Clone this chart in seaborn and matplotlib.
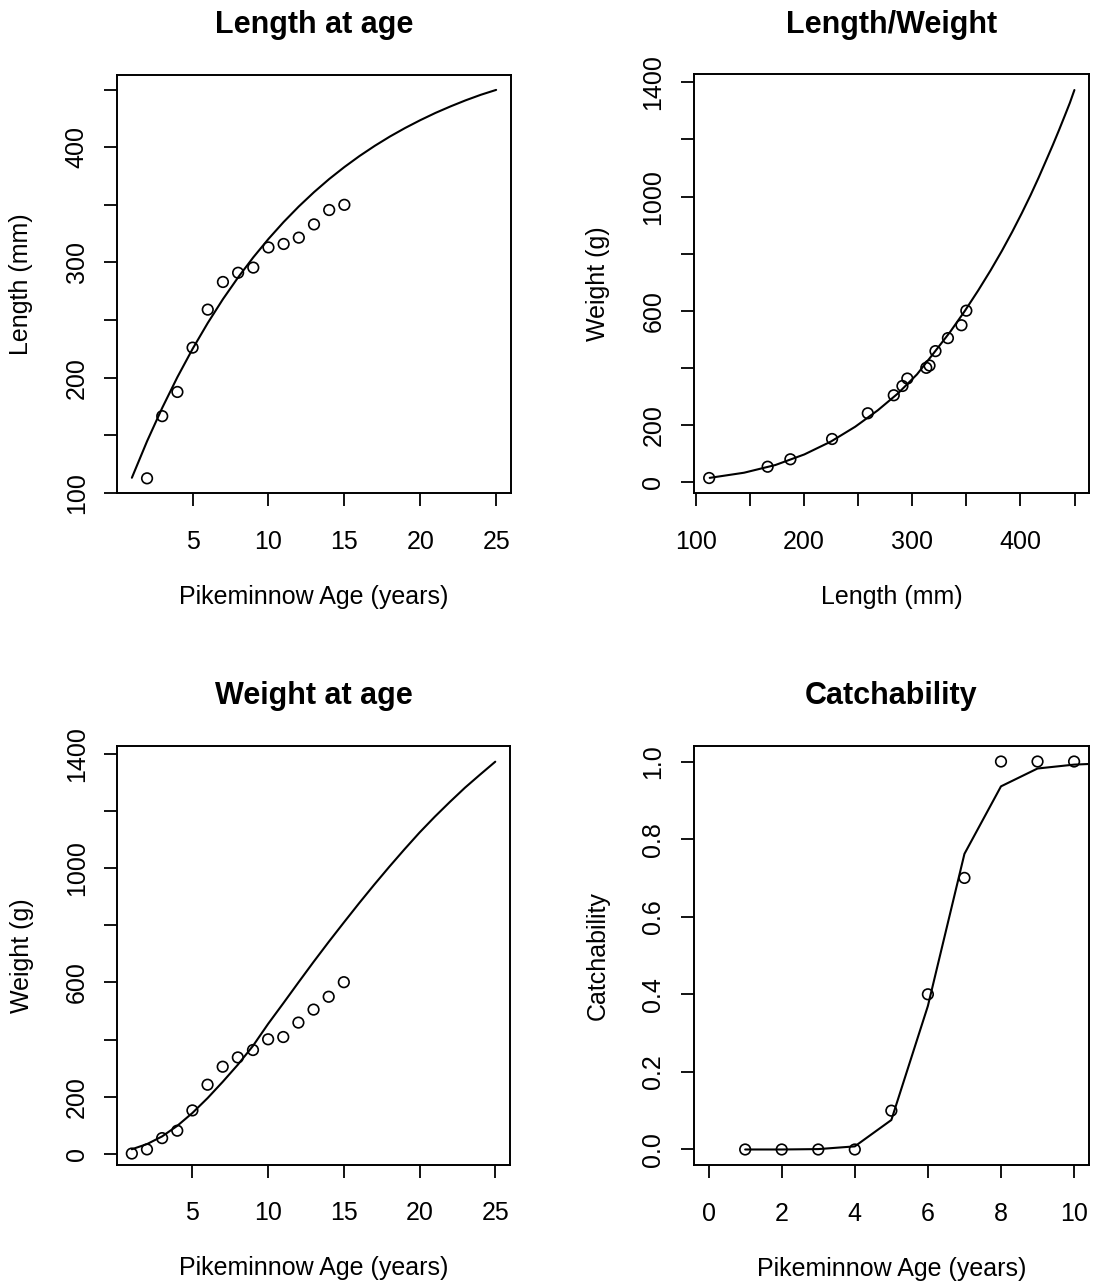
import matplotlib
matplotlib.use("Agg")
import matplotlib.pyplot as plt
import seaborn as sns
import pandas as pd

# ---------------- data ----------------
ages_obs = [2, 3, 4, 5, 6, 7, 8, 9, 10, 11, 12, 13, 14, 15]
length_obs = [112.5, 166.5, 187.5, 226, 259, 283, 291, 295.5, 313, 316, 321.5, 333, 345.5, 350]

weight_ages_obs = [1, 2, 3, 4, 5, 6, 7, 8, 9, 10, 11, 12, 13, 14, 15]
weight_obs = [1, 15.5, 55, 81, 152, 242, 305, 337.5, 363.5, 401, 409, 459.5, 505, 550, 601]

ages_fit = [1, 2, 3, 4, 5, 6, 7, 8, 9, 10, 11, 12, 13, 14, 15, 16, 17, 18, 19, 20, 21, 22, 23, 24, 25]
length_fit = [113, 144.7, 173.7, 200.4, 224.9, 247.4, 268.1, 287.0, 304.4, 320.4, 335.1, 348.6,
              361.0, 372.4, 382.8, 392.4, 401.2, 409.3, 416.7, 423.5, 429.8, 435.5, 440.8, 445.6, 449.8]
weight_fit = [16, 34, 61, 98, 143, 195, 252, 312, 378, 455, 527, 600, 672, 742, 810, 877, 942,
              1005, 1066, 1125, 1180, 1232, 1282, 1328, 1373]

catch_ages_obs = [1, 2, 3, 4, 5, 6, 7, 8, 9, 10]
catch_obs = [0, 0, 0, 0, 0.1, 0.4, 0.7, 1.0, 1.0, 1.0]
catch_fit = [0.0, 0.0, 0.001, 0.008, 0.076, 0.37, 0.762, 0.936, 0.982, 0.992, 0.996, 0.998, 0.999,
             1.0, 1.0, 1.0, 1.0, 1.0, 1.0, 1.0, 1.0, 1.0, 1.0, 1.0, 1.0]

# ---------------- style ----------------
sns.set_style("white")
plt.rcParams['font.family'] = ['Liberation Sans', 'DejaVu Sans']
plt.rcParams['text.color'] = 'black'
plt.rcParams['axes.labelcolor'] = 'black'
plt.rcParams['xtick.color'] = 'black'
plt.rcParams['ytick.color'] = 'black'
plt.rcParams['axes.titlecolor'] = 'black'

W, H = 1094, 1285
fig = plt.figure(figsize=(W / 100, H / 100), dpi=100)


def px_axes(left, top, right, bottom):
    return fig.add_axes([left / W, 1 - bottom / H, (right - left) / W, (bottom - top) / H])


LABEL_FS = 18
TITLE_FS = 22
LINE_W = 1.5


def style(ax, title, xlabel, ylabel, xlim, ylim, xticks, xlabels, yticks, ylabels):
    ax.set_xlim(*xlim)
    ax.set_ylim(*ylim)
    ax.set_xticks(xticks)
    ax.set_xticklabels(xlabels)
    ax.set_yticks(yticks)
    ax.set_yticklabels(ylabels, rotation=90, va='center')
    ax.tick_params(axis='both', direction='out', length=9.6, width=1.3,
                   labelsize=LABEL_FS, colors='black', labelcolor='black',
                   bottom=True, left=True)
    ax.tick_params(axis='x', pad=17)
    ax.tick_params(axis='y', pad=11)
    for sp in ax.spines.values():
        sp.set_visible(True)
        sp.set_linewidth(1.4)
        sp.set_color('black')
    ax.set_title(title, fontsize=TITLE_FS, fontweight='bold', pad=30, color='black')
    ax.set_xlabel(xlabel, fontsize=LABEL_FS, color='black')
    ax.set_ylabel(ylabel, fontsize=LABEL_FS, color='black')
    ax.xaxis.set_label_coords(0.5, -0.248)
    ax.xaxis.label.set_va('center')
    ax.yaxis.set_label_coords(-0.2438, 0.5)
    ax.yaxis.label.set_va('center')
    ax.grid(False)


def points(ax, x, y):
    sns.scatterplot(x=x, y=y, ax=ax, marker='o', s=58, facecolors='none',
                    edgecolor='black', linewidth=1.2, zorder=3)


def curve(ax, x, y):
    df = pd.DataFrame({'x': x, 'y': y})
    sns.lineplot(data=df, x='x', y='y', ax=ax, color='black', linewidth=LINE_W,
                 sort=False, estimator=None, zorder=2)


# Panel 1: Length at age
ax1 = px_axes(117.3, 74.7, 510.7, 493.3)
points(ax1, ages_obs, length_obs)
curve(ax1, ages_fit, length_fit)
style(ax1, 'Length at age', 'Pikeminnow Age (years)', 'Length (mm)',
      (0.04, 25.96), (99.5, 463),
      [5, 10, 15, 20, 25], ['5', '10', '15', '20', '25'],
      [100, 150, 200, 250, 300, 350, 400, 450], ['100', '', '200', '', '300', '', '400', ''])

# Panel 2: Length/Weight
ax2 = px_axes(694, 74.3, 1088.7, 493.3)
points(ax2, length_obs, weight_obs[1:])
curve(ax2, length_fit, weight_fit)
style(ax2, 'Length/Weight', 'Length (mm)', 'Weight (g)',
      (98.5, 463), (-38, 1428),
      [100, 150, 200, 250, 300, 350, 400, 450], ['100', '', '200', '', '300', '', '400', ''],
      [0, 200, 400, 600, 800, 1000, 1200, 1400], ['0', '200', '', '600', '', '1000', '', '1400'])

# Panel 3: Weight at age
ax3 = px_axes(117.3, 746, 509.8, 1164.5)
points(ax3, weight_ages_obs, weight_obs)
curve(ax3, ages_fit, weight_fit)
style(ax3, 'Weight at age', 'Pikeminnow Age (years)', 'Weight (g)',
      (0.04, 25.96), (-37.4, 1428),
      [5, 10, 15, 20, 25], ['5', '10', '15', '20', '25'],
      [0, 200, 400, 600, 800, 1000, 1200, 1400], ['0', '200', '', '600', '', '1000', '', '1400'])

# Panel 4: Catchability
ax4 = px_axes(694, 746, 1088.7, 1165)
points(ax4, catch_ages_obs, catch_obs)
curve(ax4, ages_fit, catch_fit)
style(ax4, 'Catchability', 'Pikeminnow Age (years)', 'Catchability',
      (-0.4, 10.4), (-0.04, 1.04),
      [0, 2, 4, 6, 8, 10], ['0', '2', '4', '6', '8', '10'],
      [0, 0.2, 0.4, 0.6, 0.8, 1.0], ['0.0', '0.2', '0.4', '0.6', '0.8', '1.0'])

fig.savefig('out.png', dpi=100, facecolor='white')
